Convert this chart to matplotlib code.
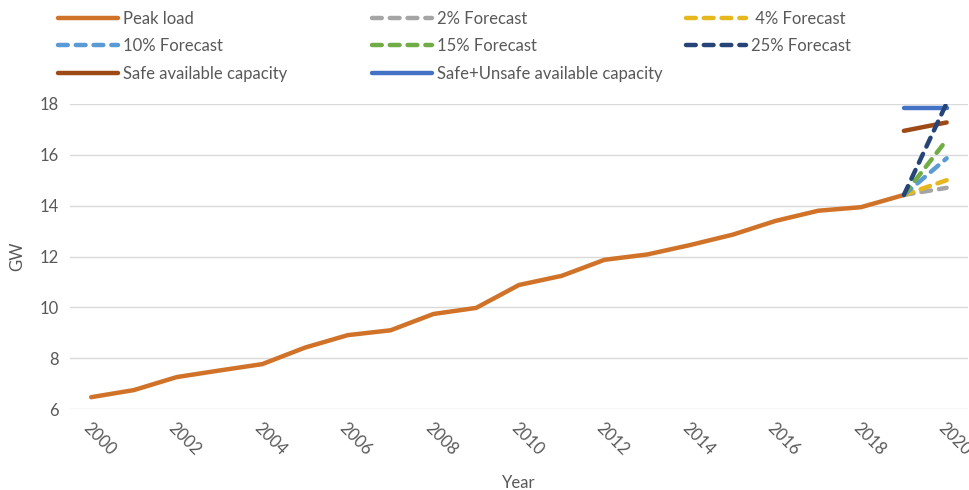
import matplotlib.pyplot as plt
from matplotlib.lines import Line2D

plt.rcParams['font.family'] = ['Lato', 'DejaVu Sans']

years = list(range(2000, 2020))
peak_load = [6.47, 6.75, 7.26, 7.52, 7.77, 8.42, 8.91, 9.1, 9.74, 9.98,
             10.88, 11.24, 11.87, 12.08, 12.45, 12.86, 13.4, 13.8, 13.94, 14.42]

forecast_years = [2019, 2020]
forecast_labels = ["2% Forecast", " 4% Forecast", "10% Forecast", "15% Forecast", "25% Forecast"]
forecast_values = [[14.42, 14.7], [14.42, 15.0], [14.42, 15.86], [14.42, 16.58], [14.42, 18.03]]
forecast_colors = ["#a5a5a5", "#e6b81e", "#5b9bd5", "#70ad47", "#264478"]

capacity_years = [2019, 2020]
safe_capacity = [16.94, 17.27]
total_capacity = [17.84, 17.84]

LW = 3.2
DASH = (0, (2.2, 1.8))

fig = plt.figure(figsize=(9.69, 4.9), dpi=100)
ax = fig.add_axes([0.072, 0.165, 0.927, 0.623])

ax.plot(years, peak_load, color="#d07228", lw=LW, solid_capstyle="round", zorder=3)
for vals, c in zip(forecast_values, forecast_colors):
    ax.plot(forecast_years, vals, color=c, lw=LW, ls=DASH, dash_capstyle="round", zorder=4)
ax.plot(capacity_years, safe_capacity, color="#9e4a16", lw=LW, solid_capstyle="round", zorder=3)
ax.plot(capacity_years, total_capacity, color="#4472c4", lw=LW, solid_capstyle="round", zorder=3)

ax.set_xlim(1999.5, 2020.5)
ax.set_ylim(6, 18)
ax.set_yticks(range(6, 19, 2))
ax.set_xticks(range(2000, 2021, 2))
ax.grid(axis="y", color="#d9d9d9", lw=1)
ax.set_axisbelow(True)
for s in ax.spines.values():
    s.set_visible(False)
ax.tick_params(length=0, labelsize=12, labelcolor="#595959", pad=8)
plt.setp(ax.get_xticklabels(), rotation=-45, ha="left", va="top", rotation_mode="anchor")
ax.set_xlabel("Year", fontsize=12, color="#595959", labelpad=12)
ax.set_ylabel("GW", fontsize=12, color="#595959", labelpad=10)


def solid(c):
    return Line2D([], [], color=c, lw=LW, solid_capstyle="round")


def dashed(c):
    return Line2D([], [], color=c, lw=LW, ls=DASH, dash_capstyle="round")


# one legend per column so each column starts where it should
columns = [
    (0.060, [solid("#d07228"), dashed(forecast_colors[2]), solid("#9e4a16")],
     ["Peak load", forecast_labels[2], "Safe available capacity"]),
    (0.384, [dashed(forecast_colors[0]), dashed(forecast_colors[3]), solid("#4472c4")],
     [forecast_labels[0], forecast_labels[3], "Safe+Unsafe available capacity"]),
    (0.708, [dashed(forecast_colors[1]), dashed(forecast_colors[4])],
     [forecast_labels[1], forecast_labels[4]]),
]
for x, hs, ls in columns:
    fig.legend(hs, ls, loc="upper left", bbox_to_anchor=(x, 0.978), frameon=False,
               fontsize=12, labelcolor="#595959", handlelength=3.6,
               handletextpad=0.3, labelspacing=0.69, borderpad=0, borderaxespad=0)

fig.savefig("out.png", dpi=100)
